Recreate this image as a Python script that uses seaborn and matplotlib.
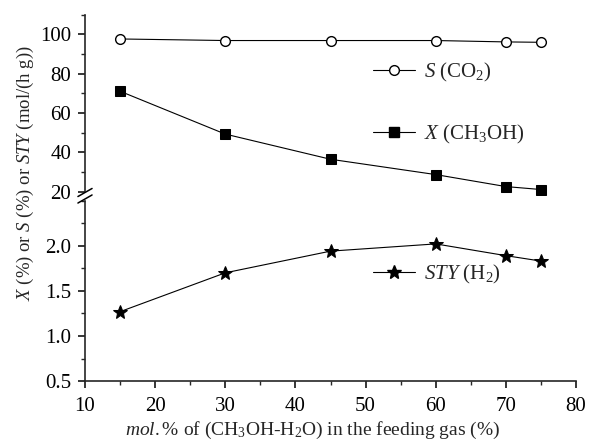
import numpy as np
import pandas as pd
import matplotlib
matplotlib.use("Agg")
import matplotlib.pyplot as plt
from matplotlib.ticker import MultipleLocator, FormatStrFormatter
from matplotlib.lines import Line2D
import seaborn as sns

# data
mol_pct = [15, 30, 45, 60, 70, 75]
s_co2 = [97.7, 96.9, 96.9, 96.9, 96.2, 96.0]
x_ch3oh = [71.1, 49.3, 36.5, 28.7, 22.6, 21.1]
sty_h2 = [1.27, 1.70, 1.94, 2.02, 1.89, 1.83]

df = pd.DataFrame({"mol": mol_pct, "S": s_co2, "X": x_ch3oh, "STY": sty_h2})

sns.set_style("ticks")
plt.rcParams["font.family"] = ["Liberation Serif", "DejaVu Serif"]
plt.rcParams["mathtext.fontset"] = "custom"
plt.rcParams["mathtext.rm"] = "Liberation Serif"
plt.rcParams["mathtext.it"] = "Liberation Serif:italic"
plt.rcParams["font.size"] = 15

fs = 15
fig = plt.figure(figsize=(5.89, 4.48), dpi=100)
L, R, T, B = 0.1443, 0.978, 0.967, 0.149
gs = fig.add_gridspec(2, 1, height_ratios=[181, 185], hspace=0,
                      left=L, right=R, top=T, bottom=B)
ax_top = fig.add_subplot(gs[0])
ax_bot = fig.add_subplot(gs[1], sharex=ax_top)

lw = 0.8
sns.lineplot(data=df, x="mol", y="S", ax=ax_top, color="black", lw=lw,
             marker="o", markersize=7, markerfacecolor="white",
             markeredgecolor="black", markeredgewidth=1)
sns.lineplot(data=df, x="mol", y="X", ax=ax_top, color="black", lw=lw,
             marker="s", markersize=6.5, markerfacecolor="black",
             markeredgecolor="black")
sns.lineplot(data=df, x="mol", y="STY", ax=ax_bot, color="black", lw=lw,
             marker="*", markersize=10, markerfacecolor="black",
             markeredgecolor="black")

ax_top.set_ylim(17.8, 110)
ax_bot.set_ylim(0.5, 2.55)
ax_bot.set_xlim(10, 80)

ax_top.yaxis.set_major_locator(MultipleLocator(20))
ax_top.yaxis.set_minor_locator(MultipleLocator(10))
ax_bot.yaxis.set_major_locator(MultipleLocator(0.5))
ax_bot.yaxis.set_minor_locator(MultipleLocator(0.25))
ax_bot.xaxis.set_major_locator(MultipleLocator(10))
ax_bot.xaxis.set_minor_locator(MultipleLocator(5))
ax_bot.yaxis.set_major_formatter(FormatStrFormatter("%.1f"))

for ax in (ax_top, ax_bot):
    for side in ("top", "right"):
        ax.spines[side].set_visible(False)
    ax.spines["left"].set_linewidth(1.2)
    ax.spines["bottom"].set_linewidth(1.2)
    ax.tick_params(which="major", direction="out", length=5, width=1.1,
                   labelsize=fs, colors="black", pad=5)
    ax.tick_params(which="minor", direction="out", length=3, width=1.0)
    ax.set_xlabel("")
    ax.set_ylabel("")

ax_bot.tick_params(axis="x", which="major", pad=6)
ax_top.spines["bottom"].set_visible(False)
ax_top.tick_params(axis="x", which="both", bottom=False, labelbottom=False)
ax_top.set_yticks([20, 40, 60, 80, 100])
ax_bot.set_yticks([0.5, 1.0, 1.5, 2.0])

# axis break marks
ax_top.spines["left"].set_bounds(20.5, 110)
ax_bot.spines["left"].set_bounds(0.5, 2.5)
kw = dict(transform=fig.transFigure, color="black", lw=1.1, clip_on=False)
for yc in (1 - 192.5 / 448, 1 - 199 / 448):
    fig.add_artist(Line2D([L - 0.012, L + 0.012], [yc - 0.009, yc + 0.009], **kw))

# legends, placed as in the reference
def handle(marker, ms, fc):
    return Line2D([], [], color="black", lw=lw, marker=marker, markersize=ms,
                  markerfacecolor=fc, markeredgecolor="black")

leg_kw = dict(frameon=False, handlelength=2.0, handletextpad=0.45,
              fontsize=fs, borderaxespad=0, borderpad=0)
fig.legend([handle("o", 7, "white")], [r"$S$ (CO$_2$)"],
           loc="center left", bbox_to_anchor=(373 / 589, 1 - 72 / 448), **leg_kw)
fig.legend([handle("s", 6.5, "black")], [r"$X$ (CH$_3$OH)"],
           loc="center left", bbox_to_anchor=(373 / 589, 1 - 134 / 448), **leg_kw)
fig.legend([handle("*", 10, "black")], [r"$STY$ (H$_2$)"],
           loc="center left", bbox_to_anchor=(373 / 589, 1 - 274 / 448), **leg_kw)

fig.text(0.043, 1 - 173 / 448,
         r"$X$ (%) or $S$ (%) or $STY$ (mol/(h g))",
         rotation=90, va="center", ha="center", fontsize=13.5)
fig.text(313 / 589, 1 - 430 / 448,
         r"$mol.$% of (CH$_3$OH-H$_2$O) in the feeding gas (%)",
         ha="center", va="center", fontsize=14)

fig.savefig("out.png", dpi=100)
